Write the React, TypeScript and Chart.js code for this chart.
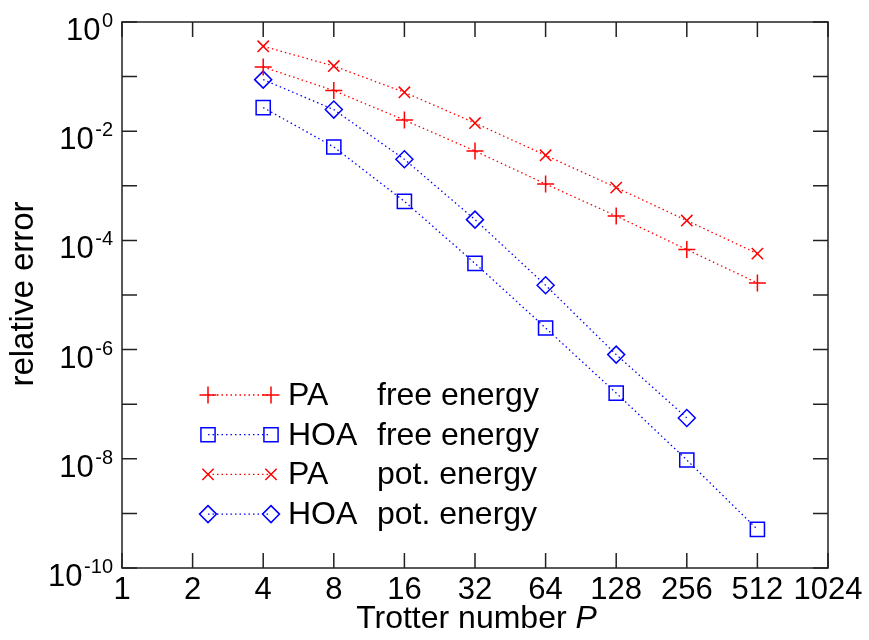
import { useEffect, useRef } from 'react';
import { Chart, registerables } from 'chart.js';

Chart.register(...registerables);

// ---- data ----
const trotterP = [4, 8, 16, 32, 64, 128, 256, 512];
const xTickValues = [1, 2, 4, 8, 16, 32, 64, 128, 256, 512, 1024];
const yTickExponents = [0, -1, -2, -3, -4, -5, -6, -7, -8, -9, -10];
const yLabelExponents = [0, -2, -4, -6, -8, -10];

const paFree = [0.15, 0.0554, 0.016, 0.00434, 1.08e-3, 2.8e-4, 6.8e-5, 1.66e-5];
const hoaFree = [0.0271, 5.14e-3, 5.2e-4, 3.8e-5, 2.49e-6, 1.6e-7, 9.5e-9, 5.1e-10];
const paPot = [0.359, 0.156, 0.0516, 0.0141, 3.62e-3, 9.27e-4, 2.31e-4, 5.73e-5];
const hoaPot = [0.088, 0.0249, 3.06e-3, 2.4e-4, 1.51e-5, 8.1e-7, 5.6e-8];

const methodLabels = ['PA', 'HOA', 'PA', 'HOA'];
const quantityLabels = ['free energy', 'free energy', 'pot. energy', 'pot. energy'];

const FONT = '"Liberation Sans", Arial, Helvetica, sans-serif';
const RED = '#ff0000';
const BLUE = '#0000ff';

function toPoints(ys: number[]) {
  return ys.map((y, i) => ({ x: trotterP[i], y }));
}

function drawMarker(ctx: CanvasRenderingContext2D, style: string, x: number, y: number, r: number) {
  ctx.beginPath();
  if (style === 'cross') {
    ctx.moveTo(x - r, y); ctx.lineTo(x + r, y);
    ctx.moveTo(x, y - r); ctx.lineTo(x, y + r);
  } else if (style === 'crossRot') {
    const d = r * Math.SQRT1_2;
    ctx.moveTo(x - d, y - d); ctx.lineTo(x + d, y + d);
    ctx.moveTo(x - d, y + d); ctx.lineTo(x + d, y - d);
  } else if (style === 'rect') {
    const s = r * Math.SQRT1_2;
    ctx.rect(x - s, y - s, 2 * s, 2 * s);
  } else if (style === 'rectRot') {
    ctx.moveTo(x - r, y); ctx.lineTo(x, y - r); ctx.lineTo(x + r, y); ctx.lineTo(x, y + r);
    ctx.closePath();
  }
  ctx.stroke();
}

const framePlugin = {
  id: 'gnuFrame',
  afterDraw(chart: any) {
    const ctx: CanvasRenderingContext2D = chart.ctx;
    const { left, right, top, bottom } = chart.chartArea;
    const xs = chart.scales.x;
    const ys = chart.scales.y;
    ctx.save();
    // frame
    ctx.strokeStyle = '#222';
    ctx.lineWidth = 1.5;
    ctx.strokeRect(left, top, right - left, bottom - top);
    // inward ticks
    const tl = 15;
    ctx.beginPath();
    xTickValues.forEach((v) => {
      const px = xs.getPixelForValue(v);
      ctx.moveTo(px, bottom); ctx.lineTo(px, bottom - tl);
      ctx.moveTo(px, top); ctx.lineTo(px, top + tl);
    });
    yTickExponents.forEach((e) => {
      const py = ys.getPixelForValue(Math.pow(10, e));
      ctx.moveTo(left, py); ctx.lineTo(left + tl, py);
      ctx.moveTo(right, py); ctx.lineTo(right - tl, py);
    });
    ctx.stroke();

    // y labels with superscripts
    ctx.fillStyle = '#000';
    ctx.textBaseline = 'alphabetic';
    yLabelExponents.forEach((e) => {
      const py = ys.getPixelForValue(Math.pow(10, e));
      const sup = e === 0 ? '0' : '-' + String(-e);
      ctx.font = `20px ${FONT}`;
      ctx.textAlign = 'right';
      const supRight = left - 9;
      ctx.fillText(sup, supRight, py + 5);
      const supW = ctx.measureText(sup).width;
      ctx.font = `31px ${FONT}`;
      ctx.fillText('10', supRight - supW - 1.5, py + 18);
    });

    // y title
    ctx.save();
    ctx.translate(33, (top + bottom) / 2 - 1);
    ctx.rotate(-Math.PI / 2);
    ctx.font = `33px ${FONT}`;
    ctx.textAlign = 'center';
    ctx.fillText('relative error', 0, 0);
    ctx.restore();

    // x title with italic P
    ctx.textAlign = 'left';
    ctx.font = `32px ${FONT}`;
    const part1 = 'Trotter number ';
    const w1 = ctx.measureText(part1).width;
    ctx.font = `italic 32px ${FONT}`;
    const w2 = ctx.measureText('P').width;
    const cx = 476.5;
    const startX = cx - (w1 + w2) / 2;
    ctx.font = `32px ${FONT}`;
    ctx.fillText(part1, startX, 628);
    ctx.font = `italic 32px ${FONT}`;
    ctx.fillText('P', startX + w1, 628);

    // legend
    const lx0 = left + 86;
    const lx1 = left + 149;
    const tx1 = left + 166;
    const tx2 = left + 255;
    chart.data.datasets.forEach((ds: any, i: number) => {
      const ly = bottom - 173 + i * 39.7;
      ctx.strokeStyle = ds.borderColor;
      ctx.lineWidth = ds.borderWidth;
      ctx.setLineDash(ds.borderDash);
      ctx.beginPath();
      ctx.moveTo(lx0, ly); ctx.lineTo(lx1, ly);
      ctx.stroke();
      ctx.setLineDash([]);
      ctx.lineWidth = ds.pointBorderWidth;
      drawMarker(ctx, ds.pointStyle, lx0, ly, ds.pointRadius);
      drawMarker(ctx, ds.pointStyle, lx1, ly, ds.pointRadius);
      ctx.fillStyle = '#000';
      ctx.font = `32px ${FONT}`;
      ctx.textBaseline = 'middle';
      ctx.textAlign = 'left';
      ctx.fillText(methodLabels[i], tx1, ly + 1);
      ctx.fillText(quantityLabels[i], tx2, ly + 1);
    });
    ctx.restore();
  },
};

export default function App() {
  const canvasRef = useRef<HTMLCanvasElement | null>(null);

  useEffect(() => {
    document.body.style.margin = '0';
    const canvas = canvasRef.current;
    if (!canvas) return;
    const mk = (i: number, data: number[], color: string, style: string, r: number) => ({
      label: methodLabels[i] + ' ' + quantityLabels[i],
      data: toPoints(data),
      borderColor: color,
      backgroundColor: 'transparent',
      borderWidth: 1.3,
      borderDash: [1.5, 3],
      pointStyle: style,
      pointRadius: r,
      pointHoverRadius: r,
      pointBorderColor: color,
      pointBackgroundColor: 'transparent',
      pointBorderWidth: 1.5,
      fill: false,
      tension: 0,
    });
    const chart = new Chart(canvas, {
      type: 'line',
      data: {
        datasets: [
          mk(0, paFree, RED, 'cross', 8.5),
          mk(1, hoaFree, BLUE, 'rect', 10),
          mk(2, paPot, RED, 'crossRot', 8),
          mk(3, hoaPot, BLUE, 'rectRot', 8.5),
        ],
      },
      options: {
        responsive: false,
        maintainAspectRatio: false,
        animation: false,
        layout: { padding: { left: 0, right: 41, top: 22, bottom: 0 } },
        plugins: { legend: { display: false }, tooltip: { enabled: false }, title: { display: false } },
        scales: {
          x: {
            type: 'logarithmic',
            position: 'bottom',
            min: 1,
            max: 1024,
            grid: { display: false, drawTicks: false },
            border: { display: false },
            afterBuildTicks: (scale: any) => {
              scale.ticks = xTickValues.map((v) => ({ value: v }));
            },
            afterFit: (scale: any) => {
              scale.height = 72;
            },
            ticks: {
              autoSkip: false,
              maxRotation: 0,
              minRotation: 0,
              padding: 4,
              color: '#000',
              font: { family: FONT, size: 31 },
              callback: (v: any) => String(v),
            },
          },
          y: {
            type: 'logarithmic',
            min: 1e-10,
            max: 1,
            grid: { display: false, drawTicks: false },
            border: { display: false },
            ticks: { display: false },
            afterFit: (scale: any) => {
              scale.width = 122;
            },
          },
        },
      },
      plugins: [framePlugin],
    } as any);
    return () => chart.destroy();
  }, []);

  return (
    <div style={{ width: 869, height: 640 }}>
      <canvas ref={canvasRef} width={869} height={640} />
    </div>
  );
}
